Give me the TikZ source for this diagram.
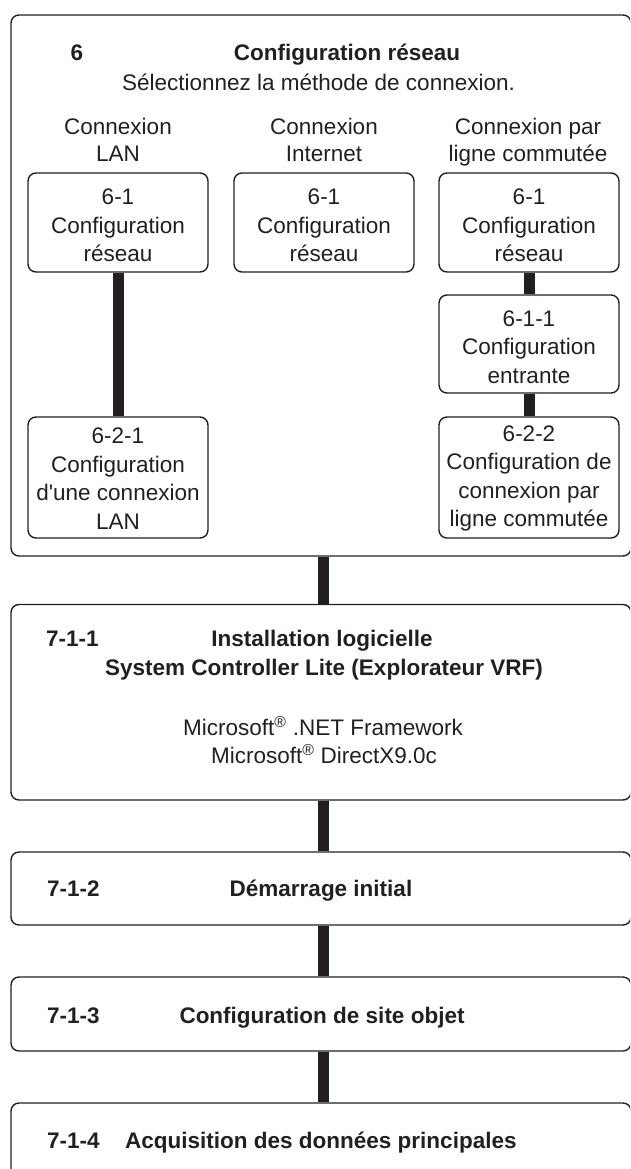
\documentclass[tikz,border=0pt]{standalone}
\usepackage{fontspec}
\newfontfamily\arial{Liberation Sans}
\definecolor{ink}{HTML}{231F20}
\begin{document}
\begin{tikzpicture}[x=1pt,y=-1pt,
  box/.style={draw=ink, line width=1.4pt, rounded corners=8pt, inner sep=0pt},
  sub/.style={box, minimum width=180pt},
  subtxt/.style={align=center, text=ink, inner sep=0pt,
              font=\arial\fontsize{22.5}{28.5}\selectfont},
  txt/.style={font=\arial\fontsize{22.5}{28.5}\selectfont, text=ink, inner sep=0pt, anchor=base},
  btxt/.style={txt, font=\arial\bfseries\fontsize{22.5}{28.5}\selectfont},
  link/.style={draw=ink, line width=11pt}]
\useasboundingbox (0,0) rectangle (630,1169);
\clip (0,0) rectangle (630,1169);

% outer boxes
\node[box, minimum width=620pt, minimum height=541pt] (s6) at (321,285.5) {};
\node[box, minimum width=620pt, minimum height=195.5pt] (s711) at (321,702.25) {};
\node[box, minimum width=620pt, minimum height=73pt] (s712) at (321,888.5) {};
\node[box, minimum width=620pt, minimum height=74pt] (s713) at (321,1014) {};
\node[box, minimum width=620pt, minimum height=97pt] (s714) at (321,1151.5) {};

% section 6 texts
\node[btxt] (t6) at (77,61) {6};
\node[btxt] (t6title) at (347,61) {Configuration réseau};
\node[txt] (t6sel) at (318.5,91) {Sélectionnez la méthode de connexion.};
\node[txt] (hlan1) at (118,135) {Connexion};
\node[txt] (hlan2) at (118,162) {LAN};
\node[txt] (hint1) at (324,135) {Connexion};
\node[txt] (hint2) at (324,162) {Internet};
\node[txt] (hdial1) at (528,135) {Connexion par};
\node[txt] (hdial2) at (528,162) {ligne commutée};

% sub boxes
\node[sub, minimum height=99pt] (lan61) at (118,222.5) {};
\node[sub, minimum height=99pt] (int61) at (324,222.5) {};
\node[sub, minimum height=99pt] (dial61) at (529,222.5) {};
\node[sub, minimum height=98pt] (dial611) at (529,344) {};
\node[sub, minimum height=121pt] (lan621) at (118,477.5) {};
\node[sub, minimum height=121pt] (dial622) at (529,477.5) {};

\node[subtxt] (lan61t) at ([yshift=-3pt]lan61.center) {6-1\\Configuration\\réseau};
\node[subtxt] (int61t) at ([yshift=-3pt]int61.center) {6-1\\Configuration\\réseau};
\node[subtxt] (dial61t) at ([yshift=-3pt]dial61.center) {6-1\\Configuration\\réseau};
\node[subtxt] (dial611t) at ([yshift=-3pt]dial611.center) {6-1-1\\Configuration\\entrante};
\node[subtxt] (lan621t) at ([yshift=-1pt]lan621.center) {6-2-1\\Configuration\\d'une connexion\\LAN};
\node[subtxt] (dial622t) at ([yshift=-1pt]dial622.center) {6-2-2\\Configuration de\\connexion par\\ligne commutée};

% section 7 texts
\node[btxt, anchor=base west] (n711) at (46,646) {7-1-1};
\node[btxt] (t711a) at (322,646) {Installation logicielle};
\node[btxt] (t711b) at (324,675) {System Controller Lite (Explorateur VRF)};
\node[txt] (t711c) at (323,735) {Microsoft\textsuperscript{®} .NET Framework};
\node[txt] (t711d) at (324,763) {Microsoft\textsuperscript{®} DirectX9.0c};

\node[btxt, anchor=base west] (n712) at (47,896) {7-1-2};
\node[btxt] (t712) at (321,896) {Démarrage initial};
\node[btxt, anchor=base west] (n713) at (47,1023) {7-1-3};
\node[btxt] (t713) at (322,1023) {Configuration de site objet};
\node[btxt, anchor=base west] (n714) at (47,1148) {7-1-4};
\node[btxt, anchor=base west] (t714) at (125,1148) {Acquisition des données principales};

% connectors
\coordinate (cx) at (323.5,0);
\draw[link] (lan61.south) -- (lan621.north);
\draw[link] (dial61.south) -- (dial611.north);
\draw[link] (dial611.south) -- (dial622.north);
\draw[link] (s6.south -| cx) -- (s711.north -| cx);
\draw[link] (s711.south -| cx) -- (s712.north -| cx);
\draw[link] (s712.south -| cx) -- (s713.north -| cx);
\draw[link] (s713.south -| cx) -- (s714.north -| cx);
\end{tikzpicture}
\end{document}
